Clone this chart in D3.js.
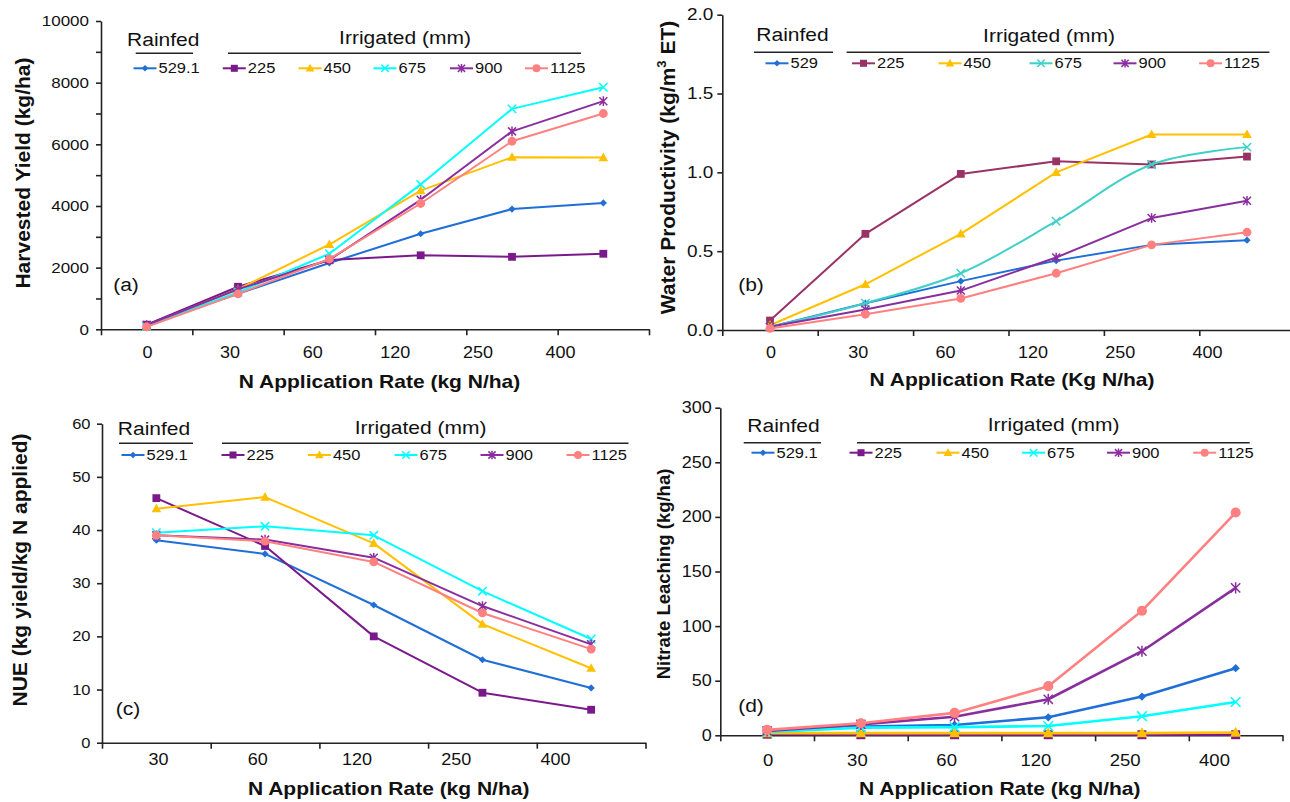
<!DOCTYPE html>
<html>
<head>
<meta charset="utf-8">
<script src="https://cdn.jsdelivr.net/npm/d3@7"></script>
<style>
  body { margin: 0; background: #fff; }
  text { font-family: Arial, "Liberation Sans", sans-serif; fill: #111; }
</style>
</head>
<body>
<svg id="chart" width="1290" height="802"></svg>
<script>
// x categories (N application rate) and tick labels
var nRates = ["0", "30", "60", "120", "250", "400"];
var nRatesNUE = ["30", "60", "120", "250", "400"];
var seriesLabels = ["529.1", "225", "450", "675", "900", "1125"];
var seriesLabelsB = ["529", "225", "450", "675", "900", "1125"];

// (a) harvested yield, kg/ha  (rows follow seriesLabels order)
var yieldRows = [
  [130, 1150, 2150, 3100, 3900, 4100],
  [150, 1380, 2250, 2400, 2350, 2450],
  [120, 1300, 2750, 4500, 5580, 5570],
  [100, 1200, 2450, 4700, 7150, 7850],
  [140, 1300, 2250, 4200, 6420, 7400],
  [80, 1150, 2280, 4080, 6100, 7000]
];
// (b) water productivity, kg/m3 ET
var wpRows = [
  [0.02, 0.17, 0.31, 0.44, 0.54, 0.57],
  [0.06, 0.61, 0.99, 1.07, 1.05, 1.10],
  [0.03, 0.29, 0.61, 1.00, 1.24, 1.24],
  [0.02, 0.17, 0.36, 0.69, 1.05, 1.16],
  [0.02, 0.13, 0.25, 0.46, 0.71, 0.82],
  [0.01, 0.10, 0.20, 0.36, 0.54, 0.62]
];
// (c) NUE, kg yield / kg N applied
var nueRows = [
  [38.1, 35.5, 25.9, 15.6, 10.3],
  [46.0, 37.0, 20.0, 9.4, 6.2],
  [44.0, 46.2, 37.5, 22.3, 14.0],
  [39.5, 40.7, 39.0, 28.5, 19.5],
  [39.0, 38.2, 34.8, 25.7, 18.5],
  [39.0, 37.9, 34.0, 24.4, 17.6]
];
// (d) nitrate leaching, kg/ha
var leachRows = [
  [3, 8, 9.5, 16.5, 35.5, 61.5],
  [1, 0.5, 0.5, 0.5, 0.5, 0.5],
  [2, 2, 2, 2, 2, 2.5],
  [3, 7, 7.5, 8.5, 17.5, 30.5],
  [4, 10, 17, 33, 77, 135],
  [5, 11, 20.5, 45, 114, 204]
];

var markers = ["diamond", "square", "triangle", "cross", "star", "circle"];
var colorsMain = ["#1f6fd6", "#7a1a8a", "#ffc000", "#00ffff", "#8a2e9e", "#ff8080"];
var colorsB = ["#1f6fd6", "#993366", "#ffc000", "#40d0c8", "#8a2e9e", "#ff8080"];

var SQ = 0.87; // the figure text is slightly squashed vertically

var svg = d3.select("#chart");

function label(g, x, y, str, size, weight, anchor) {
  return g.append("text")
    .attr("transform", "translate(" + x + "," + y + ") scale(1," + SQ + ")")
    .attr("font-size", size)
    .attr("font-weight", weight || "normal")
    .attr("text-anchor", anchor || "middle")
    .attr("dy", "0.35em")
    .text(str);
}

function drawMarker(g, type, color, s) {
  if (type == "diamond") {
    g.append("path").attr("d", "M0," + (-3.6 * s) + "L" + (3.6 * s) + ",0L0," + (3.6 * s) + "L" + (-3.6 * s) + ",0Z").attr("fill", color);
  } else if (type == "square") {
    g.append("rect").attr("x", -3.9 * s).attr("y", -3.9 * s).attr("width", 7.8 * s).attr("height", 7.8 * s).attr("fill", color);
  } else if (type == "triangle") {
    g.append("path").attr("d", "M0," + (-5 * s) + "L" + (4.8 * s) + "," + (3.6 * s) + "L" + (-4.8 * s) + "," + (3.6 * s) + "Z").attr("fill", color);
  } else if (type == "cross") {
    var c = 4.2 * s;
    g.append("path").attr("d", "M" + (-c) + "," + (-c) + "L" + c + "," + c + "M" + (-c) + "," + c + "L" + c + "," + (-c))
      .attr("stroke", color).attr("stroke-width", 1.5).attr("fill", "none");
  } else if (type == "star") {
    var k = 4 * s;
    g.append("path").attr("d", "M" + (-k) + "," + (-k) + "L" + k + "," + k + "M" + (-k) + "," + k + "L" + k + "," + (-k) + "M0," + (-k * 1.2) + "V" + (k * 1.2))
      .attr("stroke", color).attr("stroke-width", 1.5).attr("fill", "none");
  } else {
    g.append("circle").attr("r", 4.4 * s).attr("fill", color);
  }
}

var panels = [
  { rows: yieldRows, cats: nRates, names: seriesLabels, colors: colorsMain, tag: "(a)",
    left: 101, right: 649, bottom: 329.3, top: 21, yMax: 10000,
    yTicks: d3.range(0, 10001, 1000), yFmt: function(d) { return d % 2000 === 0 ? d : ""; },
    yFont: 17, yPad: 7, xFont: 18, xLab: [147, 560], xLabY: 352.7,
    xTitle: "N Application Rate (kg N/ha)", xTitlePos: [379.5, 381.7],
    yTitle: ["Harvested Yield (kg/ha)"], yTitlePos: [22.6, 173], yTitleFont: 21,
    tagPos: [126, 285], lw: 2, ms: 1,
    rain: [163.3, 40, 135.7, 193, 53.3], irr: [405, 37.3, 228, 581],
    legY: 68.3, legX: [145, 234.3, 310, 385, 461.5, 536.5], smooth: -1 },
  { rows: wpRows, cats: nRates, names: seriesLabelsB, colors: colorsB, tag: "(b)",
    left: 722.3, right: 1294.7, bottom: 330, top: 14.7, yMax: 2,
    yTicks: [0, 0.5, 1, 1.5, 2], yFmt: d3.format(".1f"),
    yFont: 19, yPad: 4, xFont: 18, xLab: [770.5, 1207], xLabY: 352.7,
    xTitle: "N Application Rate (Kg N/ha)", xTitlePos: [1012, 380],
    yTitle: ["Water Productivity (kg/m", "3", " ET)"], yTitlePos: [668, 167.5], yTitleFont: 21,
    tagPos: [751, 285], lw: 2, ms: 1,
    rain: [792.5, 35, 754, 833, 52.3], irr: [1049, 36, 846.6, 1269.4],
    legY: 63.3, legX: [777, 863.5, 950, 1041, 1125, 1210.6], smooth: 3 },
  { rows: nueRows, cats: nRatesNUE, names: seriesLabels, colors: colorsMain, tag: "(c)",
    left: 102, right: 645.5, bottom: 742.7, top: 423.7, yMax: 60,
    yTicks: d3.range(0, 61, 10), yFmt: d3.format("d"),
    yFont: 16.5, yPad: 6.5, xFont: 18, xLab: [158, 555], xLabY: 760,
    xTitle: "N Application Rate (kg N/ha)", xTitlePos: [388.7, 789],
    yTitle: ["NUE (kg yield/kg N applied)"], yTitlePos: [20, 570], yTitleFont: 21,
    tagPos: [128, 709], lw: 2, ms: 1,
    rain: [154, 428.3, 119, 193, 443.3], irr: [420.6, 427.7, 222, 628.5],
    legY: 455, legX: [133, 233, 319.4, 406, 492, 578], smooth: -1 },
  { rows: leachRows, cats: nRates, names: seriesLabels, colors: colorsMain, tag: "(d)",
    left: 720.3, right: 1282.5, bottom: 735.3, top: 407.7, yMax: 300,
    yTicks: d3.range(0, 301, 50), yFmt: d3.format("d"),
    yFont: 18, yPad: 3.5, xFont: 18.5, xLab: [767.6, 1214], xLabY: 760,
    xTitle: "N Application Rate (kg N/ha)", xTitlePos: [999.8, 789],
    yTitle: ["Nitrate Leaching (kg/ha)"], yTitlePos: [663.5, 574], yTitleFont: 18.5,
    tagPos: [751, 706], lw: 2.6, ms: 1.15,
    rain: [783.5, 426, 743.7, 821, 442.7], irr: [1053.6, 424.3, 857, 1249.7],
    legY: 452.7, legX: [763, 861, 948, 1033.6, 1118.5, 1204.7], smooth: -1 }
];

panels.forEach(function(p) {
  var g = svg.append("g");
  var n = p.cats.length;

  var x = d3.scaleBand().domain(p.cats).range([p.left, p.right]).padding(0);
  var xPos = function(c) { return x(c) + x.bandwidth() / 2; };
  var y = d3.scaleLinear().domain([0, p.yMax]).range([p.bottom, p.top]);

  // y axis
  var yAxis = d3.axisLeft(y).tickValues(p.yTicks).tickFormat(p.yFmt)
    .tickSize(5).tickSizeOuter(0).tickPadding(p.yPad);
  var ya = g.append("g").attr("transform", "translate(" + p.left + ",0)").call(yAxis);
  ya.selectAll("text").attr("font-size", p.yFont).attr("font-family", null)
    .attr("transform", "scale(1," + SQ + ")").style("fill", "#111");

  // x axis: tick marks at category boundaries
  var xb = d3.scaleLinear().domain([0, n]).range([p.left, p.right]);
  var xa = g.append("g").attr("transform", "translate(0," + p.bottom + ")")
    .call(d3.axisBottom(xb).tickValues(d3.range(0, n + 1)).tickFormat("").tickSize(6).tickSizeOuter(0));

  // x tick labels
  var xl = d3.scalePoint().domain(p.cats).range(p.xLab);
  var xla = g.append("g").attr("transform", "translate(0," + p.xLabY + ")")
    .call(d3.axisBottom(xl).tickSize(0).tickPadding(0));
  xla.select(".domain").remove();
  xla.selectAll("text").attr("font-size", p.xFont).attr("font-family", null)
    .attr("dy", "0.35em").attr("y", 0)
    .attr("transform", "scale(1," + SQ + ")").style("fill", "#111");

  g.selectAll(".domain, .tick line").attr("stroke", "#222").attr("stroke-width", 1.6);

  // axis titles
  label(g, p.xTitlePos[0], p.xTitlePos[1], p.xTitle, 21, "bold");
  var yt = g.append("text")
    .attr("transform", "translate(" + p.yTitlePos[0] + "," + p.yTitlePos[1] + ") rotate(-90)")
    .attr("font-size", p.yTitleFont).attr("font-weight", "bold")
    .attr("text-anchor", "middle").attr("dy", "0.35em");
  yt.append("tspan").text(p.yTitle[0]);
  if (p.yTitle.length > 1) {
    yt.append("tspan").attr("font-size", p.yTitleFont * 0.62).attr("dy", "-0.75em").text(p.yTitle[1]);
    yt.append("tspan").attr("dy", "0.46em").text(p.yTitle[2]);
  }

  // panel tag
  label(g, p.tagPos[0], p.tagPos[1], p.tag, 21);

  // series
  p.rows.forEach(function(vals, si) {
    var color = p.colors[si];
    var line = d3.line()
      .x(function(d, i) { return xPos(p.cats[i]); })
      .y(function(d) { return y(d); })
      .curve(si === p.smooth ? d3.curveCatmullRom.alpha(0.5) : d3.curveLinear);
    g.append("path").datum(vals).attr("d", line)
      .attr("fill", "none").attr("stroke", color).attr("stroke-width", p.lw)
      .attr("stroke-linejoin", "round");
    vals.forEach(function(v, i) {
      var mg = g.append("g").attr("transform", "translate(" + xPos(p.cats[i]) + "," + y(v) + ")");
      drawMarker(mg, markers[si], color, p.ms);
    });
  });

  // legend headers
  label(g, p.rain[0], p.rain[1], "Rainfed", 21);
  g.append("line").attr("x1", p.rain[2]).attr("x2", p.rain[3]).attr("y1", p.rain[4]).attr("y2", p.rain[4])
    .attr("stroke", "#222").attr("stroke-width", 1.6);
  label(g, p.irr[0], p.irr[1], "Irrigated (mm)", 21);
  g.append("line").attr("x1", p.irr[2]).attr("x2", p.irr[3]).attr("y1", p.rain[4]).attr("y2", p.rain[4])
    .attr("stroke", "#222").attr("stroke-width", 1.6);

  // legend entries
  p.names.forEach(function(name, si) {
    var cx = p.legX[si];
    g.append("line").attr("x1", cx - 11.5).attr("x2", cx + 11.5).attr("y1", p.legY).attr("y2", p.legY)
      .attr("stroke", p.colors[si]).attr("stroke-width", 2);
    var mg = g.append("g").attr("transform", "translate(" + cx + "," + p.legY + ")");
    drawMarker(mg, markers[si], p.colors[si], 0.9);
    label(g, cx + 13.5, p.legY, name, 16.5, "normal", "start");
  });
});
</script>
</body>
</html>
